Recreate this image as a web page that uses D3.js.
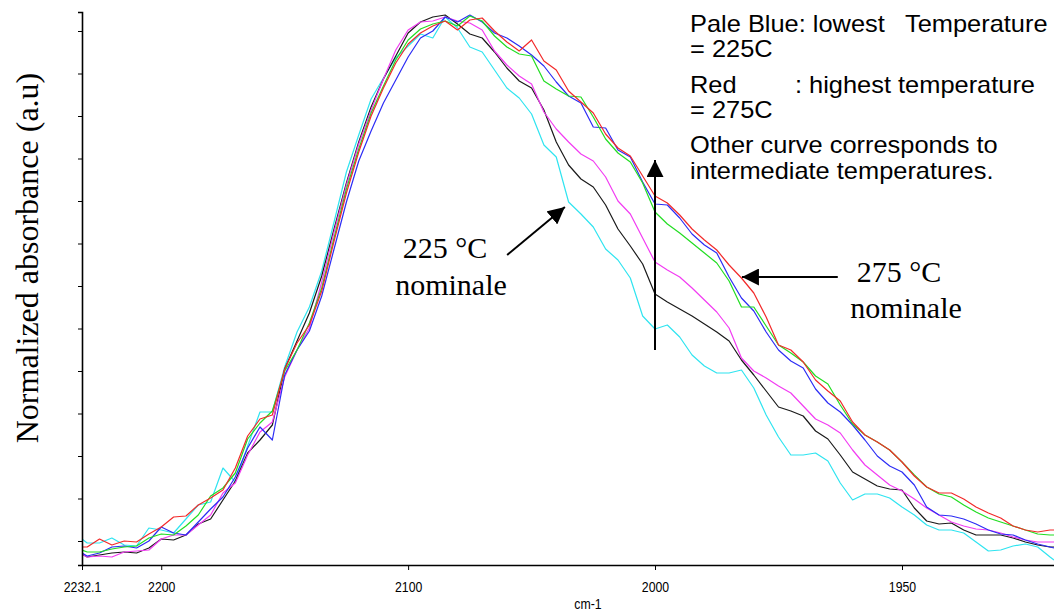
<!DOCTYPE html>
<html>
<head>
<meta charset="utf-8">
<script src="https://cdn.jsdelivr.net/npm/d3@7"></script>
<style>
  body { margin: 0; background: #fff; }
  svg { display: block; }
</style>
</head>
<body>
<div id="chart"></div>
<script>
const width = 1054;
const height = 611;

// wavenumber grid (cm-1) shared by every spectrum
const wavenumbers = [2232.1, 2230, 2225, 2220, 2215, 2210, 2205, 2200, 2195, 2190,
  2185, 2180, 2175, 2170, 2165, 2160, 2155, 2150, 2145, 2140,
  2135, 2130, 2125, 2120, 2115, 2110, 2105, 2100, 2095, 2090,
  2085, 2080, 2075, 2070, 2065, 2060, 2055, 2050, 2045, 2040,
  2035, 2030, 2025, 2020, 2015, 2010, 2005, 2000, 1997.5, 1995,
  1992.5, 1990, 1987.5, 1985, 1982.5, 1980, 1977.5, 1975, 1972.5, 1970,
  1967.5, 1965, 1962.5, 1960, 1957.5, 1955, 1952.5, 1950, 1947.5, 1945,
  1942.5, 1940, 1937.5, 1935, 1932.5, 1930, 1927.5, 1925, 1922.5, 1920, 1919.2];

// normalized absorbance (a.u.), one array per temperature
const paleBlue = [5.2, 4.4, 4.4, 5.4, 4, 3.8, 7.4, 7, 6.4, 9.2,
  12, 12.6, 19.4, 16.6, 23.8, 30.6, 30.6, 39.6, 46.6, 51.6,
  58.8, 68.6, 78.6, 86, 93.2, 97.4, 101.4, 103.8, 106.2, 105.4,
  109.6, 107.4, 103.6, 102.6, 99, 95.4, 93.4, 90.2, 84, 81.6,
  72.6, 70.2, 67.6, 63.2, 61, 57.4, 49.8, 47.2, 48, 45.6,
  42, 39.8, 38.4, 38.4, 39, 35.4, 30, 25.6, 22, 22,
  22.4, 20.8, 16.4, 13, 14.2, 14.2, 13.4, 11.6, 10, 8,
  7, 7, 6.4, 4.6, 2.8, 3, 3.8, 4.2, 3.6, 1.6, 1];

const black = [2.2, 1.6, 2, 2.4, 2.6, 2.4, 3.4, 5.2, 5, 6,
  8.2, 9.2, 13, 16.8, 22.4, 25, 28, 39.2, 44.8, 50.4,
  57.8, 67.2, 76.4, 84.6, 91.6, 97.2, 101.8, 106.4, 108.6, 109.6,
  110, 108.2, 106.2, 105.4, 102.6, 99.4, 96.8, 95.4, 91, 84.6,
  80, 77.2, 75.6, 72, 67.2, 63.8, 60.2, 54.2, 52.6, 51.2,
  49.8, 48.2, 46.6, 44.8, 41, 38, 34.8, 31.6, 30.8, 29.8,
  26.8, 25.2, 22, 18.6, 17.2, 15.8, 15.2, 15, 11.4, 8.8,
  8.2, 8.4, 7, 6, 6, 6, 5.4, 4.6, 4, 3.6, 3.6];

const magenta = [2.2, 1.6, 1.8, 1.6, 2.6, 2.8, 3, 5.2, 6, 6,
  8, 10, 14.4, 16.4, 22, 26.6, 28.6, 37.6, 43, 47.4,
  56.6, 66.6, 76, 84.2, 91, 97.2, 103, 107, 108.6, 108.8,
  109.6, 108.8, 108.4, 107, 102.8, 100, 97.8, 96.2, 90.6, 87.2,
  84.6, 82.2, 80.8, 77.6, 72.8, 70.2, 65.4, 60.6, 59, 57.6,
  55.4, 53, 50.6, 47.4, 41.4, 38.8, 37.4, 35.8, 34.4, 31.8,
  29.2, 28, 26.4, 23, 20, 18, 16, 14.8, 13.2, 11.4,
  10, 8.6, 7.8, 7.2, 7, 6.4, 5.6, 5, 4.6, 4.6, 4.6];

const blue = [2.4, 1.8, 2.4, 3.6, 3.8, 3.4, 4.8, 7.6, 6.4, 6,
  8.6, 11.2, 13.6, 17.6, 23.4, 27.6, 25, 38, 43, 46.8,
  53.8, 63.2, 72.6, 80.8, 86.8, 92.4, 97, 101.6, 105.4, 106.8,
  109.6, 108.6, 110, 108.6, 106.4, 105.4, 103.8, 102, 99.8, 96.6,
  93.8, 92.4, 87.6, 87.4, 83, 81.6, 76.6, 72.2, 72, 69.4,
  66.2, 64, 62.4, 57.6, 53.4, 50.8, 46.6, 43, 40.8, 39.4,
  35.2, 32.4, 30.6, 28, 25, 21.8, 19.8, 18.6, 16, 11.6,
  10, 9.8, 9.2, 8.2, 7, 6.2, 6, 5, 4.2, 3.6, 3.4];

const green = [3, 2.6, 2.6, 3.2, 3.6, 3.8, 5.4, 6.2, 6, 7.8,
  10, 13.8, 15.4, 18.4, 25.2, 28.4, 30.8, 38.8, 43, 48.4,
  55.4, 65.4, 75.2, 83.2, 90.4, 95.8, 101, 105, 107.2, 108.2,
  108.8, 107.8, 109.8, 108.8, 105.8, 103.6, 102.2, 101.8, 96.8, 95.2,
  93.8, 93.6, 89.6, 85.2, 82.4, 80.6, 76.4, 70.6, 68.2, 66.4,
  64.4, 62.4, 60.4, 56.8, 51.6, 51.6, 47.8, 44, 42.4, 40.6,
  37.8, 36.2, 32, 28.2, 26, 24.6, 23, 20.6, 18, 15.6,
  14.2, 13.6, 12, 10.6, 9.4, 8.6, 7.8, 7, 6.2, 6, 6];

const red = [3.6, 3.6, 5.2, 4, 4.8, 4.6, 6.2, 7.6, 9.6, 9.8,
  12, 13.4, 15, 19.4, 25.8, 29.2, 30, 39.2, 44.4, 48,
  54.8, 64.8, 74.4, 82.6, 89.8, 95.4, 100.4, 104.2, 106.4, 107.8,
  108.8, 107, 109, 109.4, 106.8, 104.6, 102.8, 105, 100.8, 99,
  94.8, 92.6, 90.4, 86.2, 83.4, 81.8, 77.8, 73.8, 72.4, 70,
  67.2, 65, 63, 60, 57.4, 54.4, 49.6, 44, 43, 40.6,
  37, 34.8, 32.8, 28.6, 26, 24.6, 23, 20.6, 17.8, 15.6,
  14.4, 14.4, 13.2, 11.6, 10.4, 9.4, 7.8, 7, 6.6, 7, 7];

const xTicks = [2232.1, 2200, 2100, 2000, 1950];
const xTickLabels = ["2232.1", "2200", "2100", "2000", "1950"];
const yTicks = [4.8, 13.3, 21.8, 30.3, 38.8, 47.3, 55.8, 64.3, 72.8, 81.3, 89.8, 98.3, 106.8];

const legendLines = [
  ["Pale Blue: lowest", "Temperature"],
  ["= 225C"],
  ["Red", ": highest temperature"],
  ["= 275C"],
  ["Other curve corresponds to"],
  ["intermediate temperatures."]
];

const series = [
  { name: "225C", color: "#2fe4f0", values: paleBlue },
  { name: "black", color: "#1a1a1a", values: black },
  { name: "magenta", color: "#f23cf2", values: magenta },
  { name: "blue", color: "#2c2cf5", values: blue },
  { name: "green", color: "#22dd22", values: green },
  { name: "275C", color: "#f22a2a", values: red }
];

const svg = d3.select("#chart")
  .append("svg")
  .attr("width", width)
  .attr("height", height);

// axe x: l'étiquette 1950 tombe plus loin que prévu sur l'original -> échelle par morceaux
const x = d3.scaleLinear()
  .domain([2232.1, 2000, 1950, 1919.2])
  .range([82, 655, 902, 1054]);

const y = d3.scaleLinear()
  .domain([0, 110.6])
  .range([565, 12]);

const line = d3.line()
  .x((d, i) => x(wavenumbers[i]))
  .y(d => y(d));

svg.append("defs").append("clipPath")
  .attr("id", "plot-clip")
  .append("rect")
  .attr("x", 82).attr("y", 0)
  .attr("width", width - 82).attr("height", 566);

svg.append("g")
  .attr("clip-path", "url(#plot-clip)")
  .selectAll("path")
  .data(series)
  .join("path")
  .attr("fill", "none")
  .attr("stroke", d => d.color)
  .attr("stroke-width", 1.2)
  .attr("stroke-linejoin", "round")
  .attr("d", d => line(d.values));

// axes
const xAxis = svg.append("g")
  .attr("transform", `translate(0,${y(0)})`)
  .call(d3.axisBottom(x)
    .tickValues(xTicks)
    .tickFormat((d, i) => xTickLabels[i])
    .tickSize(5)
    .tickSizeOuter(0)
    .tickPadding(11));

xAxis.select(".domain").attr("stroke-width", 1.6);
xAxis.selectAll("text")
  .attr("font-family", "'Liberation Sans', Arial, sans-serif")
  .attr("font-size", 15)
  .attr("transform", "scale(0.82,1)")
  .attr("fill", "#000");

const yAxis = svg.append("g")
  .attr("transform", `translate(${x(2232.1)},0)`)
  .call(d3.axisLeft(y)
    .tickValues(yTicks)
    .tickFormat("")
    .tickSize(4)
    .tickSizeOuter(4));
yAxis.select(".domain").attr("stroke-width", 1.6);

svg.append("text")
  .attr("transform", "translate(588,609) scale(0.82,1)")
  .attr("text-anchor", "middle")
  .attr("font-family", "'Liberation Sans', Arial, sans-serif")
  .attr("font-size", 15)
  .text("cm-1");

svg.append("text")
  .attr("transform", "translate(38,258) rotate(-90)")
  .attr("text-anchor", "middle")
  .attr("font-family", "'Liberation Serif', 'Times New Roman', serif")
  .attr("font-size", 32)
  .text("Normalized absorbance (a.u)");

// flèches d'annotation
svg.append("defs").append("marker")
  .attr("id", "head")
  .attr("viewBox", "0 0 10 10")
  .attr("refX", 10).attr("refY", 5)
  .attr("markerUnits", "userSpaceOnUse")
  .attr("markerWidth", 17).attr("markerHeight", 17)
  .attr("orient", "auto")
  .append("path")
  .attr("d", "M0,0L10,5L0,10Z")
  .attr("fill", "#000");

const arrows = [
  [[2059.9, 62], [2036.5, 71.6]],
  [[2000, 43], [2000, 81]],
  [[1963, 57.6], [1982.4, 57.6]]
];

svg.selectAll(".arrow")
  .data(arrows)
  .join("line")
  .attr("class", "arrow")
  .attr("x1", d => x(d[0][0])).attr("y1", d => y(d[0][1]))
  .attr("x2", d => x(d[1][0])).attr("y2", d => y(d[1][1]))
  .attr("stroke", "#000")
  .attr("stroke-width", 2)
  .attr("marker-end", "url(#head)");

const notes = [
  { text: "225 °C", x: 445, y: 258 },
  { text: "nominale", x: 451, y: 295 },
  { text: "275 °C", x: 899, y: 282 },
  { text: "nominale", x: 906, y: 318 }
];

svg.selectAll(".note")
  .data(notes)
  .join("text")
  .attr("class", "note")
  .attr("x", d => d.x).attr("y", d => d.y)
  .attr("text-anchor", "middle")
  .attr("font-family", "'Liberation Serif', 'Times New Roman', serif")
  .attr("font-size", 30)
  .text(d => d.text);

// légende en texte libre, en haut à droite (texte un peu élargi comme l'original)
const legendBase = [32, 57, 93, 118, 153, 179];
const legendStretch = 1.105;
const legendTabs = [0, (905 - 690) / legendStretch];
const legendTabsRed = [0, (795 - 690) / legendStretch];

const legend = svg.append("g")
  .attr("transform", `translate(690,0) scale(${legendStretch},1)`)
  .attr("font-family", "'Liberation Sans', Arial, sans-serif")
  .attr("font-size", 23)
  .attr("fill", "#000");

legendLines.forEach((parts, i) => {
  const tabs = i === 2 ? legendTabsRed : legendTabs;
  parts.forEach((p, j) => {
    legend.append("text")
      .attr("x", tabs[j])
      .attr("y", legendBase[i])
      .text(p);
  });
});
</script>
</body>
</html>
